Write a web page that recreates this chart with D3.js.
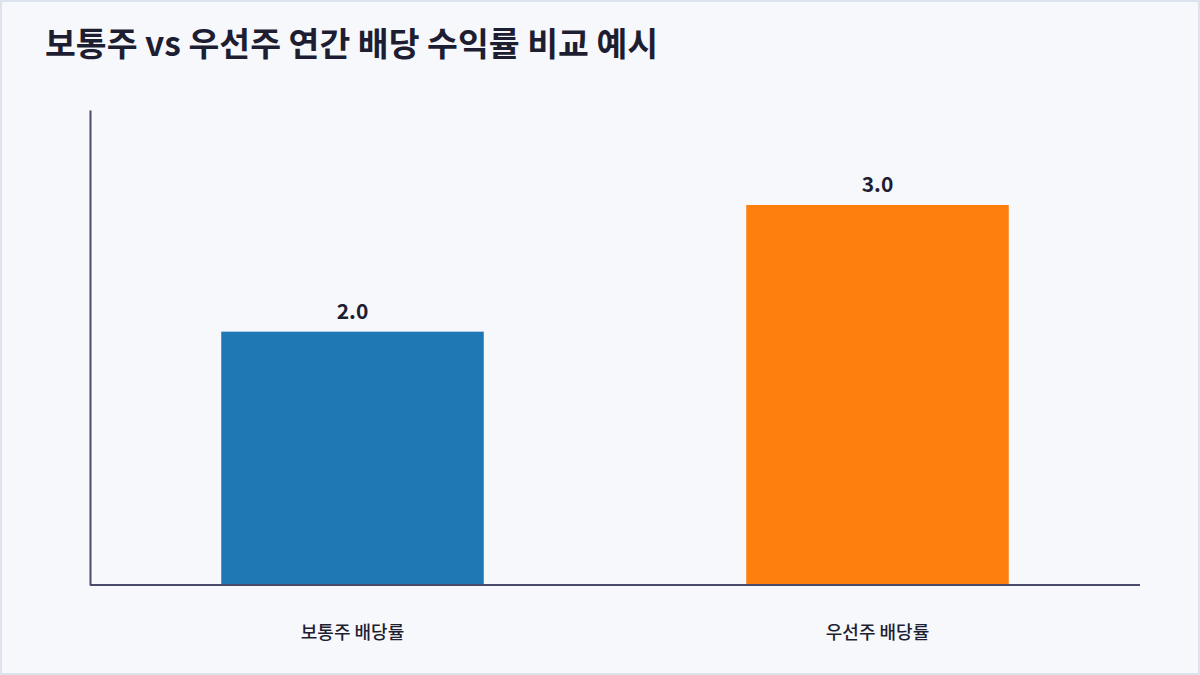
<!DOCTYPE html>
<html><head><meta charset="utf-8">
<script src="https://cdn.jsdelivr.net/npm/d3@7"></script>
<style>
html,body{margin:0;padding:0;background:#f7f8fc;}
svg{display:block;}
</style></head>
<body>
<svg id="chart" width="1200" height="675"></svg>
<script>
const titleText = "보통주 vs 우선주 연간 배당 수익률 비교 예시";
const categories = ["보통주 배당률", "우선주 배당률"];
const values = [2.0, 3.0];
const colors = ["#1f77b4", "#ff7f0e"];

const W = 1200, H = 675;
const margin = {left: 91, right: 60, top: 110, bottom: 90};
const svg = d3.select("#chart");
const font = "'Noto Sans CJK KR', 'Noto Sans', sans-serif";

svg.append("rect").attr("x",1).attr("y",1).attr("width",W-2).attr("height",H-2)
  .attr("fill","#f7f8fc").attr("stroke","#dde3ec").attr("stroke-width",2);

svg.append("text").attr("x",45).attr("y",56).text(titleText)
  .attr("font-family",font).attr("font-weight",700).attr("font-size",33.5)
  .attr("fill","#1e1e32");

const x = d3.scaleBand().domain(categories).range([margin.left-1, W-margin.right])
  .paddingInner(0.5).paddingOuter(0.25);
const y = d3.scaleLinear().domain([0, d3.max(values)*1.25]).range([H-margin.bottom, margin.top]);

const g = svg.append("g");
g.selectAll("rect.bar").data(categories).join("rect").attr("class","bar")
  .attr("x", d=>x(d)).attr("width", x.bandwidth())
  .attr("y", (d,i)=>y(values[i])).attr("height",(d,i)=>y(0)-y(values[i]))
  .attr("fill",(d,i)=>colors[i]);

g.selectAll("text.val").data(categories).join("text").attr("class","val")
  .attr("x", d=>x(d)+x.bandwidth()/2).attr("y",(d,i)=>y(values[i])-13)
  .attr("text-anchor","middle").attr("font-family",font).attr("font-weight",700)
  .attr("font-size",21).attr("fill","#1e1e32")
  .text((d,i)=>d3.format(".1f")(values[i]));

const xAxis = g.append("g").attr("transform",`translate(0,${y(0)})`)
  .call(d3.axisBottom(x).tickSize(0).tickPadding(0));
xAxis.select(".domain").attr("stroke","#4a4a6a").attr("stroke-width",2)
  .attr("d",`M${margin.left-1},0H${W-margin.right}`);
xAxis.selectAll(".tick text").attr("y",54).attr("dy",0)
  .attr("font-family",font).attr("font-weight",500).attr("font-size",18).attr("fill","#1e1e32");

const yAxis = g.append("g").attr("transform",`translate(${margin.left-1},0)`)
  .call(d3.axisLeft(y).tickSize(0).tickValues([]));
yAxis.select(".domain").attr("stroke","#4a4a6a").attr("stroke-width",2);
</script>
</body></html>
